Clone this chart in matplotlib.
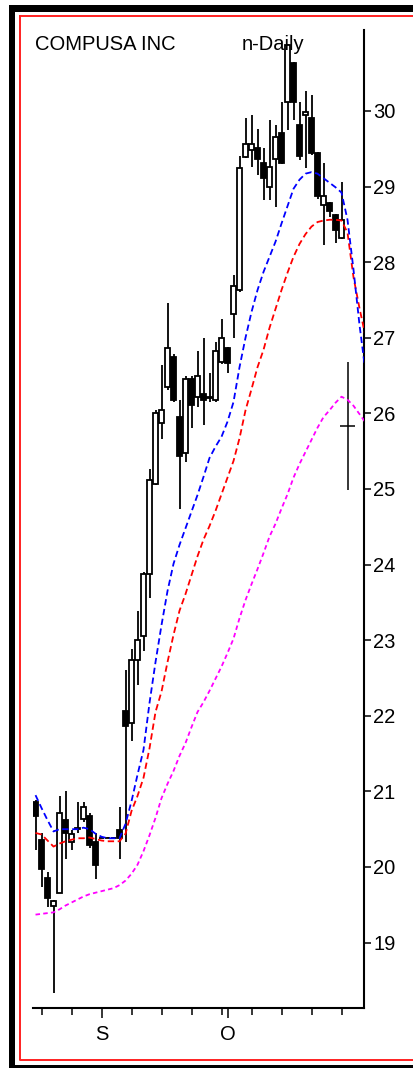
"""Daily candlestick chart for COMPUSA INC with three moving averages."""

import matplotlib
matplotlib.use("Agg")
import matplotlib.pyplot as plt
from matplotlib.patches import Rectangle
import numpy as np

plt.rcParams['font.family'] = ['Liberation Sans', 'DejaVu Sans']

W, H = 413, 1068

title_left = "COMPUSA INC"
title_right = "n-Daily"

# daily bars, one per trading day
opens = [20.86, 20.36, 19.86, 19.48, 19.66, 20.62, 20.33, 20.50, 20.63, 20.67,
         20.33, 20.39, 20.39, 20.39, 20.49, 22.06, 21.91, 22.74, 23.05, 23.88,
         25.07, 25.87, 26.35, 26.74, 25.95, 25.47, 26.45, 26.22, 26.25, 26.20,
         26.18, 26.68, 26.87, 27.32, 27.63, 29.39, 29.48, 29.51, 29.31, 29.00,
         29.37, 29.71, 30.12, 30.63, 29.81, 29.95, 29.90, 29.44, 28.76, 28.78,
         28.62, 28.32, 25.83]
highs = [20.88, 20.45, 19.94, 19.56, 20.94, 21.00, 20.49, 20.86, 20.86, 20.72,
         20.45, 20.40, 20.40, 20.40, 20.80, 22.61, 22.88, 23.38, 23.90, 25.26,
         26.05, 26.64, 27.46, 26.78, 26.18, 26.50, 26.49, 26.82, 27.00, 26.53,
         26.95, 27.25, 26.88, 27.83, 29.40, 29.90, 29.95, 29.76, 29.51, 29.88,
         29.81, 30.12, 30.89, 30.65, 30.12, 30.26, 30.21, 29.45, 29.31, 28.80,
         28.63, 29.06, 26.68]
lows = [20.22, 19.74, 19.47, 18.33, 19.66, 20.10, 20.22, 20.45, 20.60, 20.25,
        19.84, 20.38, 20.38, 20.38, 20.10, 20.33, 21.67, 22.41, 22.86, 23.56,
        25.05, 25.66, 26.31, 26.15, 24.73, 25.35, 25.80, 26.09, 25.85, 26.15,
        26.15, 26.65, 26.53, 26.99, 27.60, 29.38, 29.26, 29.15, 28.82, 28.82,
        28.73, 29.30, 29.75, 29.88, 29.35, 29.24, 29.42, 28.84, 28.23, 28.60,
        28.25, 28.30, 24.98]
closes = [20.67, 19.97, 19.59, 19.55, 20.72, 20.45, 20.43, 20.52, 20.80, 20.29,
          20.03, 20.39, 20.39, 20.39, 20.38, 21.86, 22.74, 23.00, 23.88, 25.12,
          26.00, 26.05, 26.87, 26.18, 25.43, 26.45, 26.11, 26.50, 26.18, 26.22,
          26.82, 27.00, 26.67, 27.68, 29.24, 29.56, 29.56, 29.37, 29.11, 29.26,
          29.66, 29.31, 30.87, 30.12, 29.40, 29.99, 29.44, 28.87, 28.88, 28.67,
          28.43, 28.56, 25.83]

# moving averages as drawn (they run a few days past the last bar)
ma_blue = [20.95, 20.78, 20.62, 20.47, 20.50, 20.50, 20.50, 20.50, 20.52, 20.50,
           20.44, 20.40, 20.38, 20.38, 20.38, 20.57, 20.87, 21.22, 21.55, 22.17,
           22.71, 23.20, 23.65, 24.01, 24.26, 24.48, 24.70, 24.92, 25.16, 25.41,
           25.56, 25.69, 25.89, 26.15, 26.61, 27.00, 27.34, 27.63, 27.87, 28.07,
           28.27, 28.51, 28.74, 28.97, 29.09, 29.17, 29.19, 29.17, 29.11, 29.05,
           28.99, 28.92, 28.56, 27.90, 27.17, 26.55]
ma_red = [20.45, 20.43, 20.35, 20.27, 20.31, 20.34, 20.36, 20.38, 20.38, 20.39,
          20.37, 20.35, 20.34, 20.34, 20.34, 20.44, 20.74, 20.94, 21.18, 21.57,
          22.05, 22.32, 22.71, 23.07, 23.39, 23.61, 23.86, 24.11, 24.33, 24.51,
          24.71, 24.93, 25.15, 25.37, 25.67, 26.04, 26.32, 26.61, 26.84, 27.13,
          27.38, 27.63, 27.86, 28.07, 28.24, 28.37, 28.47, 28.53, 28.55, 28.56,
          28.56, 28.55, 28.39, 27.80, 27.39, 27.02]
ma_magenta = [19.37, 19.38, 19.39, 19.40, 19.44, 19.49, 19.53, 19.57, 19.61, 19.64,
              19.66, 19.68, 19.70, 19.72, 19.76, 19.82, 19.91, 20.03, 20.21, 20.42,
              20.65, 20.91, 21.10, 21.27, 21.47, 21.64, 21.85, 22.05, 22.18, 22.33,
              22.49, 22.65, 22.83, 23.02, 23.29, 23.53, 23.74, 23.94, 24.15, 24.37,
              24.54, 24.74, 24.93, 25.15, 25.33, 25.49, 25.65, 25.81, 25.95, 26.04,
              26.14, 26.22, 26.18, 26.10, 25.99, 25.88]

# weekly ticks on the date axis, month starts get a letter
week_ticks = [1, 6, 16, 21, 26, 31, 36, 41, 46, 51]
month_ticks = [11, 32]
month_labels = ["S", "O"]
price_ticks = [19, 20, 21, 22, 23, 24, 25, 26, 27, 28, 29, 30]


def px(x, y):
    """Pixel (from top-left) to figure fraction."""
    return x / W, 1 - y / H


fig = plt.figure(figsize=(W / 100, H / 100), dpi=100)
fig.patch.set_facecolor('white')

# window frame: thick dark edge, thin red line inside (open to the right)
for (x0, y0, x1, y1) in [(9.3, 5, W + 10, 11.5), (9.3, 5, 15, H), (9.3, 1065, W + 10, H)]:
    a, b = px(x0, y1)
    fig.patches.append(Rectangle((a, b), (x1 - x0) / W, (y1 - y0) / H,
                                 transform=fig.transFigure, facecolor='black',
                                 edgecolor='none'))
fig.add_artist(plt.Line2D([19.5 / W, 19.5 / W, 1.05, 1.05],
                          [1 - 15.8 / H, 1 - 1060 / H, 1 - 1060 / H, 1 - 15.8 / H],
                          transform=fig.transFigure, color='#ff2020', lw=1.4))
fig.add_artist(plt.Line2D([19.5 / W, 1.05], [1 - 15.8 / H, 1 - 15.8 / H],
                          transform=fig.transFigure, color='#ff2020', lw=1.4))

left, right, top, bottom = 33.3, 364, 30, 1008
ax = fig.add_axes([left / W, 1 - bottom / H, (right - left) / W, (bottom - top) / H])
ax.set_facecolor('white')

n = len(opens)
body_w = 0.7
lw_c = 1.3
for i in range(n):
    o, h, l, c = opens[i], highs[i], lows[i], closes[i]
    if i == n - 1:
        # today's bar: plain cross
        ax.vlines(i, l, h, color='black', lw=1.1, zorder=2)
        ax.hlines(c, i - 1.25, i + 1.25, color='black', lw=1.1, zorder=2)
        continue
    ax.vlines(i, l, h, color='black', lw=lw_c, zorder=2)
    if abs(c - o) < 0.005:
        ax.hlines(c, i - body_w / 2, i + body_w / 2, color='black', lw=lw_c, zorder=2)
        continue
    fc = 'white' if c >= o else 'black'
    ax.add_patch(Rectangle((i - body_w / 2, min(o, c)), body_w, abs(c - o),
                           facecolor=fc, edgecolor='black', lw=lw_c, zorder=2))

xs = np.arange(len(ma_blue))
ax.plot(xs, ma_magenta, color='#ff00ff', lw=1.3, ls=(0, (2.5, 1.8)), zorder=3)
ax.plot(xs, ma_red, color='#ff0000', lw=1.3, ls=(0, (3.5, 2)), zorder=3)
ax.plot(xs, ma_blue, color='#0000ff', lw=1.3, ls=(0, (3.5, 2)), zorder=3)

ax.set_xlim(-0.37, 54.75)
ax.set_ylim(18.135, 31.07)

for s in ['top', 'left']:
    ax.spines[s].set_visible(False)
for s in ['right', 'bottom']:
    ax.spines[s].set_linewidth(1.5)

ax.yaxis.tick_right()
ax.set_yticks(price_ticks)
ax.set_yticklabels([str(p) for p in price_ticks])
ax.tick_params(axis='y', direction='out', length=5, width=1.1, pad=1.5,
               labelsize=14.5, colors='black')

ax.set_xticks(month_ticks)
ax.set_xticklabels(month_labels)
ax.set_xticks(week_ticks, minor=True)
ax.tick_params(axis='x', which='major', direction='out', length=7.5, width=1.1,
               pad=5, labelsize=14.5)
ax.tick_params(axis='x', which='minor', direction='out', length=5, width=1.1)

fig.text(35 / W, 1 - 44 / H, title_left, fontsize=14.5, va='center', ha='left')
fig.text(242 / W, 1 - 44 / H, title_right, fontsize=14.5, va='center', ha='left')

fig.savefig("out.png", dpi=100)
plt.close()
